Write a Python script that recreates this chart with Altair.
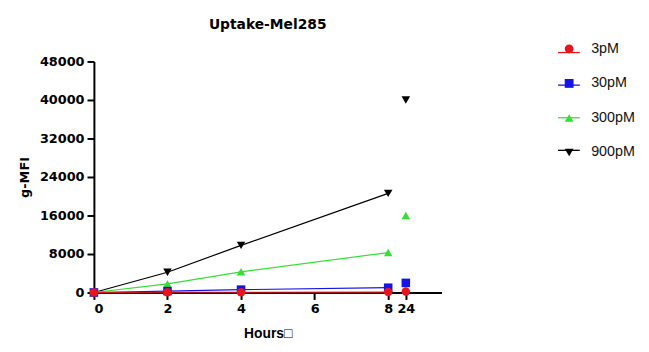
import altair as alt
import pandas as pd

hours = [0, 2, 4, 8, 24]
series_order = ["900pM", "300pM", "30pM", "3pM"]   # drawing order (red on top)
legend_order = ["3pM", "30pM", "300pM", "900pM"]
v900 = [0, 4200, 9800, 20600, 40000]
v300 = [0, 1800, 4300, 8300, 16000]
v30 = [0, 300, 600, 1000, 2000]
v3 = [0, 60, 60, 90, 200]
colors = ["#e8141c", "#1414e6", "#33e033", "#000000"]
shapes = ["circle", "square", "triangle-up", "triangle-down"]
x_tick_labels = ["0", "2", "4", "6", "8", "24"]
y_ticks = [0, 8000, 16000, 24000, 32000, 40000, 48000]

values = {"900pM": v900, "300pM": v300, "30pM": v30, "3pM": v3}
rows = []
for s in series_order:
    for h, v in zip(hours, values[s]):
        rows.append({"series": s, "hours": h, "mfi": v})
df = pd.DataFrame(rows)

BREAK_POS = 8.48  # position of the "24" segment after the axis break
x_tick_pos = [0, 2, 4, 6, 8, BREAK_POS]
line_domain = ["line " + s for s in legend_order]

FONT = "Liberation Sans"
WIDE = "DejaVu Sans"

base = alt.Chart(df).transform_calculate(
    xpos=f"datum.hours > 8 ? {BREAK_POS} : datum.hours",
    line_series="'line ' + datum.series",
)

x_enc = alt.X(
    "xpos:Q",
    scale=alt.Scale(domain=[0, 9.45], nice=False, zero=False),
    axis=alt.Axis(
        title="Hours□",
        titleFont=FONT,
        titleFontSize=14,
        values=x_tick_pos,
        labelExpr="datum.value > 8.1 ? '24' : datum.label",
        grid=False,
    ),
)
y_enc = alt.Y(
    "mfi:Q",
    scale=alt.Scale(domain=[0, 48000], nice=False),
    axis=alt.Axis(title="g-MFI", values=y_ticks, format="d", grid=False),
)

LX, LY = 474, -20
point_legend = alt.Legend(
    title=None,
    orient="none",
    legendX=LX,
    legendY=LY,
    labelFont=FONT,
    labelFontSize=14.5,
    labelColor="#111111",
    labelOffset=15,
    rowPadding=20,
    symbolSize=80,
    symbolStrokeWidth=0,
    padding=0,
)
line_legend = alt.Legend(
    title=None,
    orient="none",
    legendX=LX - 5,
    legendY=LY - 1,
    symbolType="stroke",
    symbolSize=484,
    symbolStrokeWidth=1.3,
    labelExpr="''",
    labelFontSize=14.5,
    labelOffset=0,
    rowPadding=14,
    padding=0,
)

lines = base.transform_filter("datum.hours <= 8").mark_line(strokeWidth=1.2).encode(
    x=x_enc,
    y=y_enc,
    stroke=alt.Stroke(
        "line_series:N",
        scale=alt.Scale(domain=line_domain, range=colors),
        legend=line_legend,
    ),
    detail="series:N",
)
points = base.mark_point(filled=True, size=75, opacity=1).encode(
    x=x_enc,
    y=y_enc,
    color=alt.Color(
        "series:N",
        scale=alt.Scale(domain=legend_order, range=colors),
        legend=point_legend,
    ),
    shape=alt.Shape(
        "series:N",
        scale=alt.Scale(domain=legend_order, range=shapes),
        legend=point_legend,
    ),
)

chart = (
    alt.layer(lines, points)
    .properties(
        width=352,
        height=234,
        title=alt.TitleParams(
            "Uptake-Mel285", font=WIDE, fontSize=14, fontWeight="bold",
            offset=9, anchor="middle", frame="group",
        ),
        autosize=alt.AutoSizeParams(type="none"),
        padding={"left": 87, "top": 52, "right": 202, "bottom": 50},
    )
    .configure_view(stroke=None)
    .configure_axis(
        labelFont=WIDE,
        labelFontSize=13,
        labelFontWeight="bold",
        labelColor="#000000",
        titleFont=WIDE,
        titleFontSize=13,
        titleFontWeight="bold",
        titleColor="#000000",
        domainColor="#000000",
        domainWidth=2,
        tickColor="#000000",
        tickWidth=2,
        tickSize=7,
        labelPadding=3,
    )
    .configure_axisX(titlePadding=12)
    .configure_axisY(titlePadding=8)
)

chart.save("out.html", embed_options={"renderer": "svg", "actions": False})
